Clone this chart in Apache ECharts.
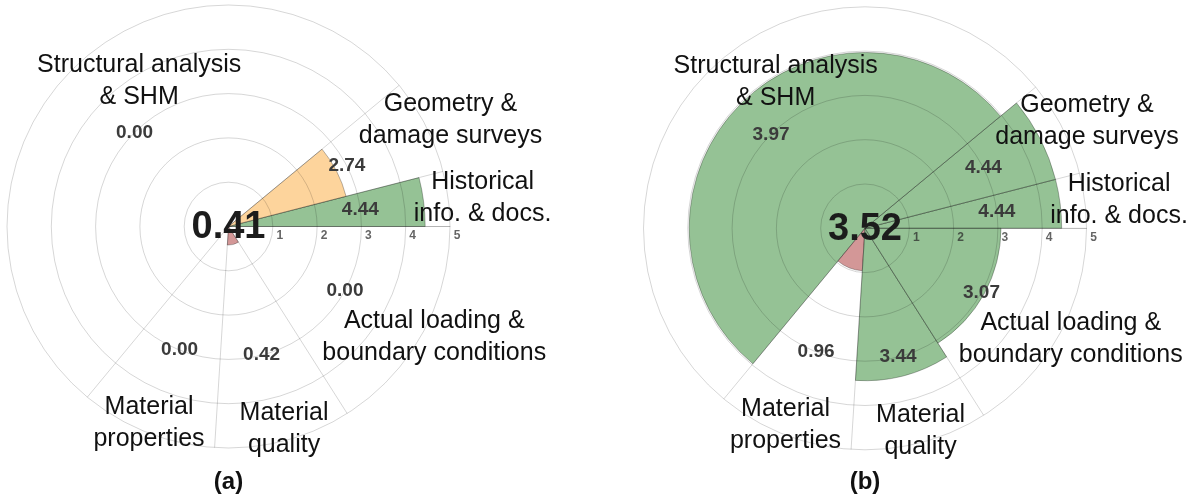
<!DOCTYPE html>
<html>
<head>
<meta charset="utf-8">
<title>Knowledge-level polar charts</title>
<script src="https://cdn.jsdelivr.net/npm/echarts@6/dist/echarts.min.js"></script>
<style>
  html, body { margin: 0; padding: 0; background: #ffffff; }
  #chart { width: 1193px; height: 500px; }
</style>
</head>
<body>
<div id="chart"></div>
<script>
// Knowledge categories, listed counter-clockwise from the 0° axis
const categories = [
  'Historical\ninfo. & docs.',
  'Geometry &\ndamage surveys',
  'Structural analysis\n& SHM',
  'Material\nproperties',
  'Material\nquality',
  'Actual loading &\nboundary conditions'
];
// Relative weight of each category (sets the angular width of its sector)
const weights = [4, 7, 53, 10, 10, 16];
// Scores per category, panel (a) and panel (b)
const scoresA = [4.44, 2.74, 0.00, 0.00, 0.42, 0.00];
const scoresB = [4.44, 4.44, 3.97, 0.96, 3.44, 3.07];
// Weighted overall score printed at the centre of each panel
const overallScores = [0.41, 3.52];
const panelTags = ['(a)', '(b)'];

// Placement of the category names, in axis units (radius) and degrees (angle)
const labelRadius = [5.77, 5.56, 3.86, 4.79, 4.75, 5.27];
const labelAngle = [6.3, 25.7, 121.5, 248.0, 285.3, 331.8];
// Radius (axis units) at which the score of each sector is printed
const VALUE_LABEL_R = 3;

const FONT = '"Liberation Sans", Arial, Helvetica, sans-serif';
const GRID = 'rgba(0,0,0,0.16)';
const COLOR_LOW = '#d39797';
const COLOR_MID = '#fdd49c';
const COLOR_HIGH = '#95c295';

function colorFor(v) {
  return v < 1 ? COLOR_LOW : (v < 3 ? COLOR_MID : COLOR_HIGH);
}

// cumulative angular bounds of each sector, in degrees
const totalWeight = weights.reduce((a, b) => a + b, 0);
const bounds = [];
(function () {
  let acc = 0;
  weights.forEach(w => {
    const s = acc / totalWeight * 360;
    acc += w;
    bounds.push([s, acc / totalWeight * 360]);
  });
})();

function sectorData(scores) {
  return scores.map((v, i) => [bounds[i][0], bounds[i][1], v]);
}

function canvasAngle(api, cx, cy, deg) {
  const p = api.coord([5, deg]);
  return Math.atan2(p[1] - cy, p[0] - cx);
}

function renderSector(params, api) {
  const a0 = api.value(0), a1 = api.value(1), v = api.value(2);
  const c = api.coord([0, 0]);
  const cx = c[0], cy = c[1];
  const pv = api.coord([v, (a0 + a1) / 2]);
  const r = Math.hypot(pv[0] - cx, pv[1] - cy);
  if (r < 0.5) return { type: 'group', children: [] };
  const s = canvasAngle(api, cx, cy, a1);
  let e = canvasAngle(api, cx, cy, a0);
  if (e < s) e += Math.PI * 2;
  return {
    type: 'sector',
    shape: { cx: cx, cy: cy, r0: 0, r: r, startAngle: s, endAngle: e, clockwise: true },
    style: { fill: colorFor(v), stroke: 'rgba(0,0,0,0.28)', lineWidth: 1 }
  };
}

function renderBoundary(params, api) {
  const a = api.value(0);
  const p0 = api.coord([0, a]);
  const p1 = api.coord([5, a]);
  return {
    type: 'line',
    shape: { x1: p0[0], y1: p0[1], x2: p1[0], y2: p1[1] },
    style: { stroke: GRID, lineWidth: 1 }
  };
}

function renderValueLabel(params, api) {
  const a0 = api.value(0), a1 = api.value(1), v = api.value(2);
  const p = api.coord([VALUE_LABEL_R, (a0 + a1) / 2]);
  return {
    type: 'text',
    x: p[0], y: p[1],
    style: {
      text: v.toFixed(2), fill: '#3b3b3b', font: 'bold 19px ' + FONT,
      align: 'center', verticalAlign: 'middle'
    }
  };
}

function renderCategoryLabel(params, api) {
  const i = params.dataIndex;
  const p = api.coord([api.value(0), api.value(1)]);
  return {
    type: 'text',
    x: p[0], y: p[1],
    style: {
      text: categories[i], fill: '#111111', font: '25px ' + FONT,
      lineHeight: 32, align: 'center', verticalAlign: 'middle'
    }
  };
}

function renderCentre(params, api) {
  const p = api.coord([0, 0]);
  return {
    type: 'text',
    x: p[0], y: p[1] + 1,
    style: {
      text: api.value(0).toFixed(2), fill: '#1c1c1c', font: 'bold 38px ' + FONT,
      align: 'center', verticalAlign: 'middle'
    }
  };
}

const centres = [[228.5, 226.5], [865, 228.3]];
const panels = [scoresA, scoresB];

const option = {
  backgroundColor: '#ffffff',
  animation: false,
  polar: centres.map(c => ({ center: c, radius: 221.5 })),
  angleAxis: centres.map((c, i) => ({
    polarIndex: i, type: 'value', min: 0, max: 360, startAngle: 0, clockwise: false,
    axisLine: { show: false }, axisTick: { show: false },
    axisLabel: { show: false }, splitLine: { show: false }, z: 3
  })),
  radiusAxis: centres.map((c, i) => ({
    polarIndex: i, type: 'value', min: 0, max: 5, interval: 1, z: 3,
    axisLine: { show: true, lineStyle: { color: GRID, width: 1 } },
    axisTick: { show: false },
    axisLabel: {
      show: true, margin: -3, verticalAlign: 'top', padding: [0, 0, 0, 14],
      color: 'rgba(40,40,40,0.72)', fontSize: 12, fontWeight: 'bold', fontFamily: FONT,
      formatter: v => (v === 0 ? '' : String(v))
    },
    splitLine: { show: true, lineStyle: { color: GRID, width: 1 } }
  })),
  series: [],
  graphic: panelTags.map((t, i) => ({
    type: 'text', x: centres[i][0], y: 482, z: 10,
    style: { text: t, fill: '#111111', font: 'bold 24px ' + FONT, align: 'center', verticalAlign: 'middle' }
  }))
};

panels.forEach((scores, i) => {
  option.series.push({
    type: 'custom', coordinateSystem: 'polar', polarIndex: i, z: 2,
    renderItem: renderSector, data: sectorData(scores), silent: true
  });
  option.series.push({
    type: 'custom', coordinateSystem: 'polar', polarIndex: i, z: 4,
    renderItem: renderBoundary, data: bounds.map(b => [b[0]]), silent: true
  });
  option.series.push({
    type: 'custom', coordinateSystem: 'polar', polarIndex: i, z: 10,
    renderItem: renderValueLabel, data: sectorData(scores), silent: true
  });
  option.series.push({
    type: 'custom', coordinateSystem: 'polar', polarIndex: i, z: 10,
    renderItem: renderCategoryLabel,
    data: labelRadius.map((r, k) => [r, labelAngle[k]]), silent: true
  });
  option.series.push({
    type: 'custom', coordinateSystem: 'polar', polarIndex: i, z: 11,
    renderItem: renderCentre, data: [[overallScores[i]]], silent: true
  });
});

const chart = echarts.init(document.getElementById('chart'), null, { renderer: 'canvas' });
chart.setOption(option);
</script>
</body>
</html>
